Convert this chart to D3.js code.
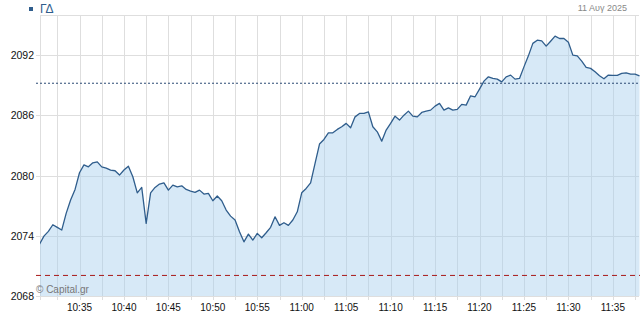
<!DOCTYPE html>
<html>
<head>
<meta charset="utf-8">
<script src="https://cdn.jsdelivr.net/npm/d3@7"></script>
<style>
  body { margin: 0; background: #fff; }
  svg { display: block; font-family: "Liberation Sans", Arial, sans-serif; }
</style>
</head>
<body>
<div class="container"></div>
<script>
// index name and session date
const seriesName = "ΓΔ";
const sessionDate = "11 Αυγ 2025";

// intraday quotes every 30 seconds, first one at 10:30:30
const startTime = "10:30:30";
const stepSeconds = 30;
const prices = [
  2073.15, 2073.97, 2074.44, 2075.10, 2074.84, 2074.57, 2076.23, 2077.56, 2078.62, 2080.28,
  2081.07, 2080.87, 2081.27, 2081.37, 2080.87, 2080.75, 2080.55, 2080.48, 2080.05, 2080.55,
  2080.94, 2079.88, 2078.28, 2078.82, 2075.24, 2078.28, 2078.82, 2079.15, 2079.28, 2078.55,
  2079.05, 2078.88, 2078.98, 2078.62, 2078.45, 2078.32, 2078.55, 2078.16, 2078.23, 2077.49,
  2077.96, 2077.49, 2076.56, 2075.96, 2075.57, 2074.40, 2073.40, 2074.17, 2073.57, 2074.24,
  2073.80, 2074.30, 2074.84, 2075.89, 2075.04, 2075.30, 2075.04, 2075.57, 2076.39, 2078.28,
  2078.72, 2079.28, 2081.21, 2083.14, 2083.60, 2084.26, 2084.26, 2084.60, 2084.86, 2085.20,
  2084.76, 2085.85, 2086.19, 2086.19, 2086.35, 2084.86, 2084.36, 2083.43, 2084.53, 2085.20,
  2085.92, 2085.53, 2086.02, 2086.42, 2085.92, 2085.85, 2086.29, 2086.42, 2086.52, 2086.92,
  2087.19, 2086.52, 2086.75, 2086.52, 2086.59, 2087.09, 2087.02, 2087.95, 2087.85, 2088.61,
  2089.41, 2089.84, 2089.68, 2089.61, 2089.34, 2089.84, 2090.01, 2089.61, 2089.68, 2090.83,
  2091.93, 2093.17, 2093.49, 2093.42, 2092.90, 2093.39, 2093.89, 2093.66, 2093.66, 2093.29,
  2092.00, 2091.93, 2091.40, 2090.77, 2090.68, 2090.34, 2089.94, 2089.64, 2090.01, 2089.98,
  2089.98, 2090.18, 2090.24, 2090.11, 2090.11, 2089.94
];

// reference levels: previous close (dotted) and low limit (dashed red)
const previousClose = 2089.2;
const lowLevel = 2070.05;

// axis ticks
const yTicks = [2068, 2074, 2080, 2086, 2092];
const xTickLabels = ["10:35", "10:40", "10:45", "10:50", "10:55", "11:00", "11:05",
  "11:10", "11:15", "11:20", "11:25", "11:30", "11:35"];
const xGridTimes = ["10:32:30", "10:35", "10:37:30", "10:40", "10:42:30", "10:45", "10:47:30",
  "10:50", "10:52:30", "10:55", "10:57:30", "11:00", "11:02:30", "11:05", "11:07:30", "11:10",
  "11:12:30", "11:15", "11:17:30", "11:20", "11:22:30", "11:25", "11:27:30", "11:30",
  "11:32:30", "11:35", "11:37:30"];

const parseTime = (s) => {
  const p = s.split(":").map(Number);
  return new Date(2025, 7, 11, p[0], p[1], p[2] || 0);
};

const t0 = parseTime(startTime);
const data = prices.map((v, i) => ({ t: new Date(+t0 + i * stepSeconds * 1000), v: v }));

const W = 640, H = 313;
const plot = { left: 40, right: 639, top: 15, bottom: 296 };

const svg = d3.select(".container")
  .append("svg")
  .attr("width", W)
  .attr("height", H);

const x = d3.scaleTime()
  .domain([t0, data[data.length - 1].t])
  .range([39.5, 639.5]);

const y = d3.scaleLinear()
  .domain([2068, 2096])
  .range([plot.bottom, plot.top]);

// horizontal grid with small ticks on the left
svg.append("g")
  .selectAll("line")
  .data(yTicks)
  .join("line")
  .attr("x1", 36)
  .attr("x2", plot.right)
  .attr("y1", (d) => Math.round(y(d)) + 0.5)
  .attr("y2", (d) => Math.round(y(d)) + 0.5)
  .attr("stroke", "#dedede");

// top border
svg.append("line")
  .attr("x1", plot.left)
  .attr("x2", plot.right)
  .attr("y1", plot.top + 0.5)
  .attr("y2", plot.top + 0.5)
  .attr("stroke", "#dedede");

// vertical grid every 2.5 minutes
svg.append("g")
  .selectAll("line")
  .data(xGridTimes.map(parseTime))
  .join("line")
  .attr("x1", (d) => Math.round(x(d)) + 0.5)
  .attr("x2", (d) => Math.round(x(d)) + 0.5)
  .attr("y1", plot.top)
  .attr("y2", plot.bottom + 4)
  .attr("stroke", "#dedede");

// left border
svg.append("line")
  .attr("x1", plot.left + 0.5)
  .attr("x2", plot.left + 0.5)
  .attr("y1", plot.top)
  .attr("y2", plot.bottom + 4)
  .attr("stroke", "#dedede");

// area under the price line
const area = d3.area()
  .x((d) => x(d.t))
  .y0(plot.bottom)
  .y1((d) => y(d.v));

const clip = svg.append("clipPath")
  .attr("id", "plot-clip")
  .append("rect")
  .attr("x", plot.left)
  .attr("y", plot.top)
  .attr("width", plot.right - plot.left + 1)
  .attr("height", plot.bottom - plot.top);

svg.append("path")
  .datum(data)
  .attr("clip-path", "url(#plot-clip)")
  .attr("d", area)
  .attr("fill", "#a6ceee")
  .attr("fill-opacity", 0.45);

// previous close, dotted
svg.append("line")
  .attr("x1", 36)
  .attr("x2", plot.right + 1)
  .attr("y1", y(previousClose))
  .attr("y2", y(previousClose))
  .attr("stroke", "#2b4a74")
  .attr("stroke-width", 1)
  .attr("stroke-dasharray", "2,2");

// low level, dashed red
svg.append("line")
  .attr("x1", 36)
  .attr("x2", plot.right + 1)
  .attr("y1", y(lowLevel))
  .attr("y2", y(lowLevel))
  .attr("stroke", "#a81818")
  .attr("stroke-width", 1)
  .attr("stroke-dasharray", "5,4");

// the price line
svg.append("path")
  .datum(data)
  .attr("clip-path", "url(#plot-clip)")
  .attr("d", d3.line().x((d) => x(d.t)).y((d) => y(d.v)))
  .attr("fill", "none")
  .attr("stroke", "#2f5d8c")
  .attr("stroke-width", 1.3)
  .attr("stroke-linejoin", "round");

// y axis labels
svg.append("g")
  .selectAll("text")
  .data(yTicks)
  .join("text")
  .attr("x", 34)
  .attr("y", (d) => y(d) + 4)
  .attr("text-anchor", "end")
  .attr("font-size", 10.5)
  .attr("fill", "#111")
  .text((d) => d);

// x axis labels
svg.append("g")
  .selectAll("text")
  .data(xTickLabels)
  .join("text")
  .attr("x", (d) => x(parseTime(d)))
  .attr("y", 311)
  .attr("text-anchor", "middle")
  .attr("font-size", 10)
  .attr("fill", "#111")
  .text((d) => d);

// legend
svg.append("rect")
  .attr("x", 29)
  .attr("y", 7)
  .attr("width", 4)
  .attr("height", 4)
  .attr("fill", "#2f5d8c");

svg.append("text")
  .attr("x", 40)
  .attr("y", 13)
  .attr("font-size", 12)
  .attr("fill", "#2f5d8c")
  .text(seriesName);

// date top right
svg.append("text")
  .attr("x", 627)
  .attr("y", 11)
  .attr("text-anchor", "end")
  .attr("font-size", 9)
  .attr("fill", "#888")
  .text(sessionDate);

// credit
svg.append("text")
  .attr("x", 36)
  .attr("y", 293)
  .attr("font-size", 10)
  .attr("fill", "#777")
  .text("© Capital.gr");
</script>
</body>
</html>
